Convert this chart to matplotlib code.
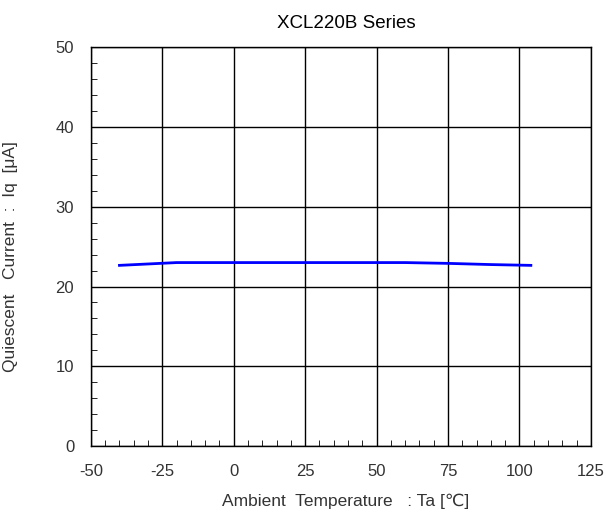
import numpy as np
import matplotlib.pyplot as plt
from matplotlib.ticker import MultipleLocator

plt.rcParams['font.family'] = ['Liberation Sans', 'DejaVu Sans']
plt.rcParams['axes.unicode_minus'] = False

temp = [-40, -20, 0, 25, 50, 60, 75, 90, 104]
iq = [22.65, 23.0, 23.0, 23.0, 23.0, 23.0, 22.9, 22.75, 22.65]

fig = plt.figure(figsize=(6.06, 5.17), dpi=100)
ax = fig.add_axes([0.150, 0.137, 0.825, 0.772])

ax.plot(temp, iq, color='#0000ff', linewidth=2)

ax.set_xlim(-50, 125)
ax.set_ylim(0, 50)
ax.xaxis.set_major_locator(MultipleLocator(25))
ax.xaxis.set_minor_locator(MultipleLocator(5))
ax.yaxis.set_major_locator(MultipleLocator(10))
ax.yaxis.set_minor_locator(MultipleLocator(2))
ax.grid(True, which='major', color='black', linewidth=1)
ax.tick_params(which='both', direction='in', labelsize=12, labelcolor='#333333')
ax.tick_params(axis='x', which='major', length=0, pad=13)
ax.tick_params(axis='y', which='major', length=0, pad=12)
ax.tick_params(which='minor', length=4)
for s in ax.spines.values():
    s.set_linewidth(1)

ax.set_title('XCL220B Series', fontsize=13.5, pad=14, x=0.51)
ax.set_xlabel('Ambient  Temperature   : Ta [\u2103]', fontsize=12.5, color='#333333')
ax.set_ylabel('Quiescent   Current  :  Iq  [\u03bcA]', fontsize=12.5, color='#333333')
ax.xaxis.set_label_coords(0.51, -0.12)
ax.yaxis.set_label_coords(-0.146, 0.475)

fig.savefig('out.png', dpi=100)
